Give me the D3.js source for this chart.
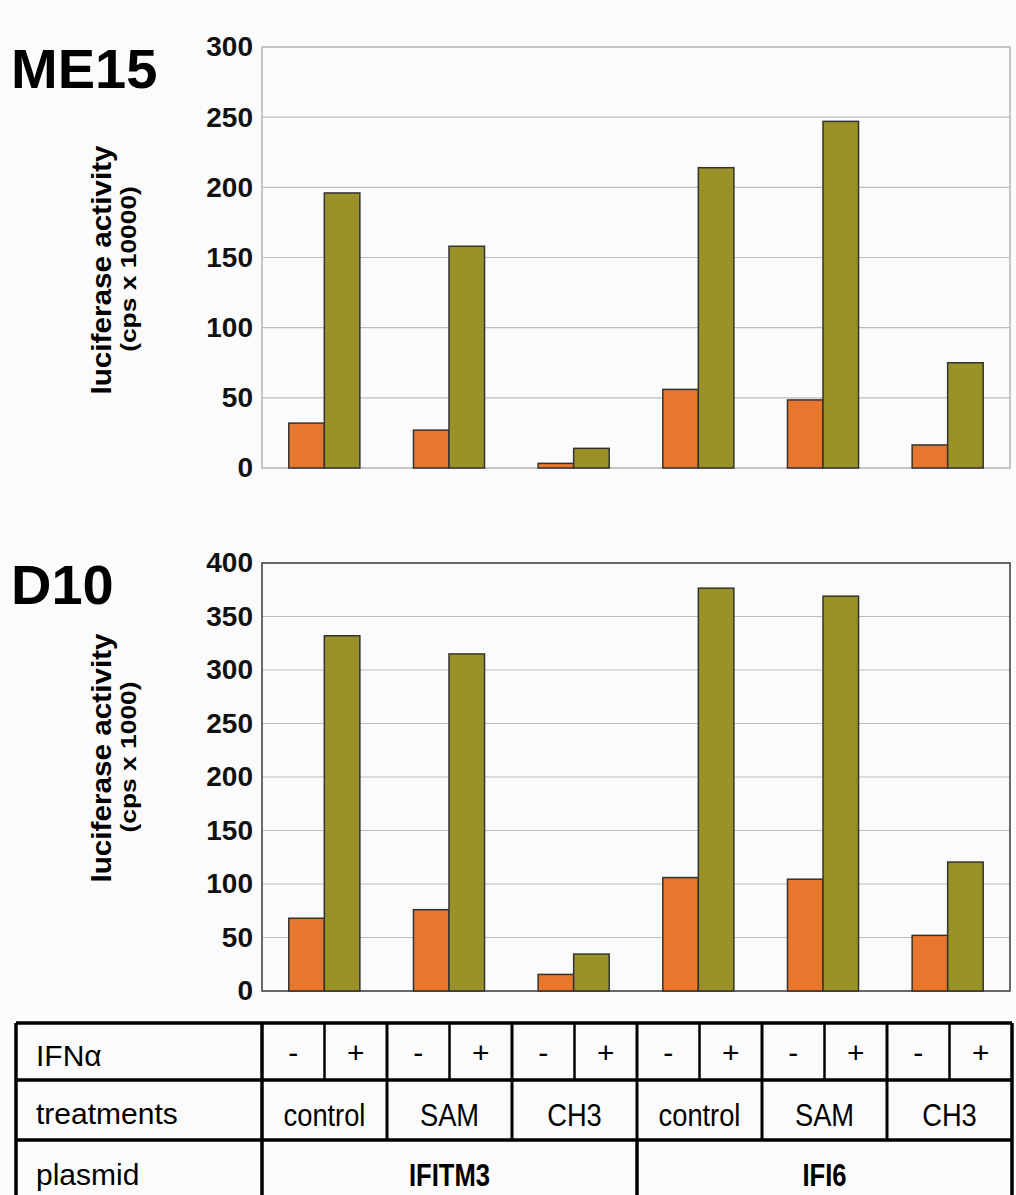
<!DOCTYPE html>
<html>
<head>
<meta charset="utf-8">
<script src="https://cdn.jsdelivr.net/npm/d3@7"></script>
<style>
    body { margin: 0; background: #fbfbfb; }
    svg { display: block; font-family: Arial, "Liberation Sans", sans-serif; }
</style>
</head>
<body>
<svg id="chart"></svg>
<script>
// data
const plasmids = ['IFITM3', 'IFI6'];
const treatments = ['control', 'SAM', 'CH3'];
const ifnLevels = ['-', '+'];
const groups = ['IFITM3 control', 'IFITM3 SAM', 'IFITM3 CH3', 'IFI6 control', 'IFI6 SAM', 'IFI6 CH3'];

const me15Minus = [32, 27, 3.3, 56, 48.5, 16.4];
const me15Plus = [196, 158, 14, 214, 247, 75];
const me15Ticks = [0, 50, 100, 150, 200, 250, 300];

const d10Minus = [68, 76, 15.5, 106, 104.5, 52];
const d10Plus = [332, 315, 34.5, 376.5, 369, 120.5];
const d10Ticks = [0, 50, 100, 150, 200, 250, 300, 350, 400];

const colors = { '-': '#e8762d', '+': '#9a9128' };

const width = 1016;
const height = 1195;
const left = 262;
const right = 1010;

const svg = d3.select('#chart')
    .attr('width', width)
    .attr('height', height);

svg.append('rect')
    .attr('width', width)
    .attr('height', height)
    .attr('fill', '#fbfbfb');

const x0 = d3.scaleBand()
    .domain(groups)
    .range([left, right])
    .paddingInner(0.43)
    .paddingOuter(0.215);

const x1 = d3.scaleBand()
    .domain(ifnLevels)
    .range([0, x0.bandwidth()]);

function drawPanel(cfg) {
    const y = d3.scaleLinear()
        .domain([0, cfg.max])
        .range([cfg.bottom, cfg.top]);

    const g = svg.append('g');

    // gridlines
    g.selectAll('.grid')
        .data(cfg.ticks.filter(d => d > 0 && d < cfg.max))
        .enter().append('line')
        .attr('x1', left)
        .attr('x2', right)
        .attr('y1', d => y(d))
        .attr('y2', d => y(d))
        .attr('stroke', '#bdbdbd')
        .attr('stroke-width', 1.2);

    // frame
    g.append('rect')
        .attr('x', left)
        .attr('y', cfg.top)
        .attr('width', right - left)
        .attr('height', cfg.bottom - cfg.top)
        .attr('fill', 'none')
        .attr('stroke', cfg.frame)
        .attr('stroke-width', 1.5);

    // tick labels
    const axis = d3.axisLeft(y).tickValues(cfg.ticks).tickSize(0).tickPadding(9);
    const ax = g.append('g')
        .attr('transform', `translate(${left},0)`)
        .call(axis);
    ax.select('.domain').remove();
    ax.selectAll('text')
        .attr('font-size', 28)
        .attr('font-weight', 'bold')
        .attr('fill', '#111')
        .attr('font-family', 'Arial, "Liberation Sans", sans-serif');

    // bars
    const rows = groups.map((grp, i) => ({ grp, values: [
        { k: '-', v: cfg.minus[i] },
        { k: '+', v: cfg.plus[i] }
    ] }));

    g.selectAll('.grp')
        .data(rows)
        .enter().append('g')
        .attr('transform', d => `translate(${x0(d.grp)},0)`)
        .selectAll('rect')
        .data(d => d.values)
        .enter().append('rect')
        .attr('x', d => x1(d.k))
        .attr('width', x1.bandwidth())
        .attr('y', d => y(d.v))
        .attr('height', d => y(0) - y(d.v))
        .attr('fill', d => colors[d.k])
        .attr('stroke', '#333')
        .attr('stroke-width', 1.5);

    // panel title
    g.append('text')
        .attr('x', 11)
        .attr('y', cfg.top + 41)
        .attr('font-size', 56)
        .attr('font-weight', 'bold')
        .attr('fill', '#000')
        .text(cfg.title);

    // y axis titles
    const mid = cfg.labelMid;
    g.append('text')
        .attr('transform', `translate(111,${mid}) rotate(-90) scale(1.06,1)`)
        .attr('text-anchor', 'middle')
        .attr('font-size', 28)
        .attr('font-weight', 'bold')
        .attr('fill', '#000')
        .text('luciferase activity');
    g.append('text')
        .attr('transform', `translate(136,${mid - 1}) rotate(-90) scale(1.2,1)`)
        .attr('text-anchor', 'middle')
        .attr('font-size', 22)
        .attr('font-weight', 'bold')
        .attr('fill', '#000')
        .text(cfg.unit);
}

drawPanel({
    title: 'ME15', unit: '(cps x 10000)', max: 300, ticks: me15Ticks,
    minus: me15Minus, plus: me15Plus,
    top: 47, bottom: 468, frame: '#b4b4b4', labelMid: 270
});

drawPanel({
    title: 'D10', unit: '(cps x 1000)', max: 400, ticks: d10Ticks,
    minus: d10Minus, plus: d10Plus,
    top: 563, bottom: 991, frame: '#3a3a3a', labelMid: 758
});

// condition table under the charts
const tLeft = 16;
const tRight = 1012;
const rowY = [1023, 1080, 1140, 1205];

const tx = d3.scaleBand().domain(groups).range([left, tRight]);
const tsub = d3.scaleBand().domain(ifnLevels).range([0, tx.bandwidth()]);
const table = svg.append('g');

// horizontal rules
table.selectAll('.hr')
    .data(rowY)
    .enter().append('line')
    .attr('x1', tLeft)
    .attr('x2', tRight)
    .attr('y1', d => d)
    .attr('y2', d => d)
    .attr('stroke', '#000')
    .attr('stroke-width', 3.5);

function vline(x, y1, y2, w) {
    table.append('line')
        .attr('x1', x).attr('x2', x)
        .attr('y1', y1).attr('y2', y2)
        .attr('stroke', '#000')
        .attr('stroke-width', w);
}

vline(tLeft, rowY[0], rowY[3], 3.5);
vline(tRight, rowY[0], rowY[3], 3.5);
vline(left, rowY[0], rowY[3], 3.5);
groups.forEach((grp, i) => {
    if (i > 0) vline(tx(grp), rowY[0], rowY[2], 3);
    vline(tx(grp) + tsub.bandwidth(), rowY[0], rowY[1], 2.5);
});
vline(tx(groups[3]), rowY[2], rowY[3], 3.5);

// row titles
const rowTitles = ['IFN\u03b1', 'treatments', 'plasmid'];
table.selectAll('.rt')
    .data(rowTitles)
    .enter().append('text')
    .attr('x', 36)
    .attr('y', (d, i) => (rowY[i] + rowY[i + 1]) / 2 + (i === 2 ? 12 : 14))
    .attr('font-size', 30)
    .attr('fill', '#000')
    .text(d => d);

// +/- cells
groups.forEach(grp => {
    table.selectAll(null)
        .data(ifnLevels)
        .enter().append('text')
        .attr('x', d => tx(grp) + tsub(d) + tsub.bandwidth() / 2)
        .attr('y', (rowY[0] + rowY[1]) / 2 + 11)
        .attr('text-anchor', 'middle')
        .attr('font-size', 30)
        .attr('fill', '#000')
        .text(d => d);
});

// treatment cells
table.selectAll('.tr')
    .data(groups)
    .enter().append('text')
    .attr('transform', d => `translate(${tx(d) + tx.bandwidth() / 2},${(rowY[1] + rowY[2]) / 2 + 16}) scale(0.88,1)`)
    .attr('text-anchor', 'middle')
    .attr('font-size', 31)
    .attr('fill', '#000')
    .text((d, i) => treatments[i % 3]);

// plasmid cells
table.selectAll('.pl')
    .data(plasmids)
    .enter().append('text')
    .attr('transform', (d, i) => {
        const cx = (tx(groups[i * 3]) + tx(groups[i * 3 + 2]) + tx.bandwidth()) / 2;
        return `translate(${cx},${rowY[2] + 46}) scale(0.8,1)`;
    })
    .attr('text-anchor', 'middle')
    .attr('font-size', 32)
    .attr('font-weight', 'bold')
    .attr('fill', '#000')
    .text(d => d);
</script>
</body>
</html>
